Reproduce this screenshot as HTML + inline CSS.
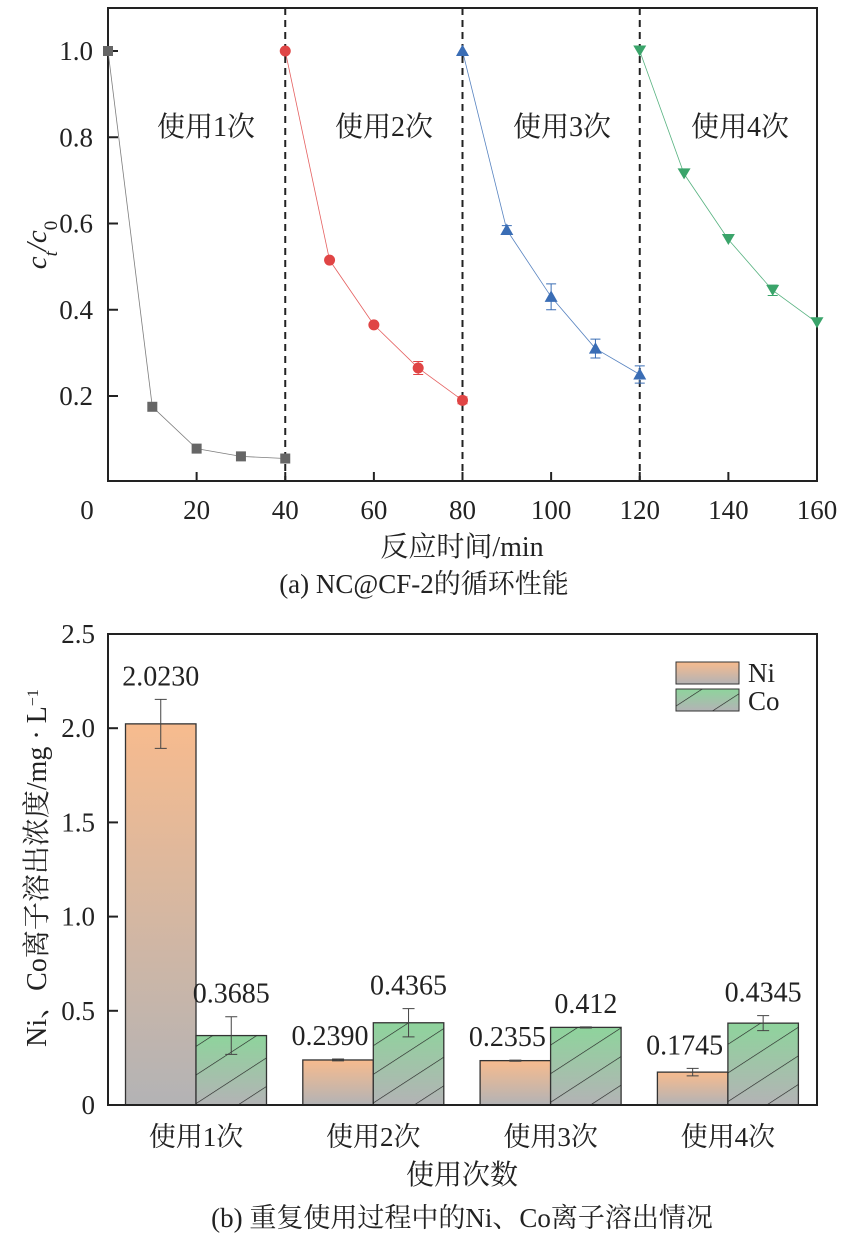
<!DOCTYPE html>
<html><head><meta charset="utf-8"><style>
body{margin:0;background:#fff;}
svg, svg text{font-family:"Liberation Serif","Noto Serif CJK SC","Noto Sans CJK SC",serif !important;}
svg text{fill:#222;}
</style></head><body>
<svg id="s" width="846" height="1242" xmlns="http://www.w3.org/2000/svg" font-family="Liberation Serif, Noto Serif CJK SC, serif">
<defs>
<linearGradient id="gNi" x1="0" y1="0" x2="0" y2="1"><stop offset="0" stop-color="#f7bb8e"/><stop offset="1" stop-color="#b3b3b5"/></linearGradient>
<linearGradient id="gCo" x1="0" y1="0" x2="0" y2="1"><stop offset="0" stop-color="#8ed49c"/><stop offset="1" stop-color="#b3b3b5"/></linearGradient>
<pattern id="hatch" patternUnits="userSpaceOnUse" width="24" height="24" patternTransform="rotate(-33)"><line x1="0" y1="0" x2="24" y2="0" stroke="#222" stroke-width="1.3"/></pattern>
</defs>
<g id="top"></g><g id="bot"></g>
</svg>
<script>
// top chart data
const cycleNames=["使用1次","使用2次","使用3次","使用4次"];
const t1=[0,10,20,30,40], v1=[1.0,0.175,0.078,0.06,0.055], e1=[0,0.005,0.005,0.005,0.005];
const t2=[40,50,60,70,80], v2=[1.0,0.515,0.365,0.265,0.19], e2=[0,0.005,0.005,0.015,0.008];
const t3=[80,90,100,110,120], v3=[1.0,0.585,0.43,0.31,0.25], e3=[0,0.01,0.03,0.022,0.02];
const t4=[120,130,140,150,160], v4=[1.0,0.715,0.563,0.445,0.37], e4=[0,0.005,0.005,0.012,0.005];
const xTicks=[0,20,40,60,80,100,120,140,160];
const yTicks=[0.2,0.4,0.6,0.8,1.0];
// bottom chart data
const groups=["使用1次","使用2次","使用3次","使用4次"];
const ni=[2.0230,0.2390,0.2355,0.1745], niErr=[0.13,0.005,0.003,0.02];
const co=[0.3685,0.4365,0.412,0.4345], coErr=[0.1,0.075,0.003,0.04];
const niLbl=["2.0230","0.2390","0.2355","0.1745"], coLbl=["0.3685","0.4365","0.412","0.4345"];
const bTicks=[0,0.5,1.0,1.5,2.0,2.5];

const NS="http://www.w3.org/2000/svg";
const FF='"Liberation Serif","Noto Serif CJK SC",serif';
function mk(p,tag,attrs,txt){const e=document.createElementNS(NS,tag);for(const k in attrs)e.setAttribute(k,attrs[k]);if(tag==='text')e.style.fontFamily=FF;if(txt!==undefined)e.textContent=txt;p.appendChild(e);return e;}
const T=document.getElementById('top'), B=document.getElementById('bot');
const L=108,R=817,TT=8,TB=481;
const X=t=>L+(t/160)*(R-L);
const Y=v=>396-(v-0.2)/0.8*(396-51);
let r=mk(T,'rect',{x:L,y:TT,width:R-L,height:TB-TT,fill:'none',stroke:'#222','stroke-width':2});

xTicks.forEach(t=>{let l=mk(T,'line',{x1:X(t),x2:X(t),y1:TB,y2:TB-9,stroke:'#222','stroke-width':2});
 let tx=mk(T,'text',{x:t===0?87:X(t),y:519,'font-size':27,'text-anchor':'middle'},String(t));});
yTicks.forEach(v=>{let l=mk(T,'line',{x1:L,x2:L+10,y1:Y(v),y2:Y(v),stroke:'#222','stroke-width':2});
 let tx=mk(T,'text',{x:93,y:Y(v)+9,'font-size':27,'text-anchor':'end'},v.toFixed(1));});
[40,80,120].forEach(t=>{let l=mk(T,'line',{x1:X(t),x2:X(t),y1:TT,y2:TB,stroke:'#222','stroke-width':2,'stroke-dasharray':'7,5'});});
let yt=mk(T,'text',{transform:'translate(46,245) rotate(-90)','font-size':29,'text-anchor':'middle','font-style':'italic'});
yt.innerHTML='c<tspan baseline-shift="sub" font-size="19">t</tspan>/c<tspan baseline-shift="sub" font-size="19" font-style="normal">0</tspan>';

let xt=mk(T,'text',{x:462,y:556,'font-size':28,'text-anchor':'middle'},'反应时间/min');
let cap=mk(T,'text',{x:424,y:593,'font-size':27,'text-anchor':'middle'},'(a) NC@CF-2的循环性能');
[[206,126],[384,126],[562,126],[740,126]].forEach((p,i)=>{let a=mk(T,'text',{x:p[0],y:p[1]+10,'font-size':28,'text-anchor':'middle'},cycleNames[i]);});
const series=[[t1,v1,e1,'#666','sq'],[t2,v2,e2,'#e04545','ci'],[t3,v3,e3,'#3a6db5','tu'],[t4,v4,e4,'#3aa46a','td']];
series.forEach((s,si)=>{const [ts,vs,es,c,m]=s;
 let pl=mk(T,'polyline',{points:ts.map((t,i)=>X(t)+','+Y(vs[i])).join(' '),fill:'none',stroke:c,'stroke-width':0.8,opacity:0.85});
 ts.forEach((t,i)=>{const x=X(t),y=Y(vs[i]);
  if(es[i]>0.006){let eb=mk(T,'path',{d:`M${x-5},${Y(vs[i]+es[i])}H${x+5}M${x},${Y(vs[i]+es[i])}V${Y(vs[i]-es[i])}M${x-5},${Y(vs[i]-es[i])}H${x+5}`,stroke:c,fill:'none','stroke-width':1});}
  let e;
  if(m==='sq')e=mk(T,'rect',{x:x-5,y:y-5,width:10,height:10,fill:c});
  else if(m==='ci')e=mk(T,'circle',{cx:x,cy:y,r:5.5,fill:c});
  else if(m==='tu')e=mk(T,'path',{d:`M${x},${y-6.5}L${x+6.5},${y+5}L${x-6.5},${y+5}Z`,fill:c});
  else e=mk(T,'path',{d:`M${x},${y+5.5}L${x+6.5},${y-5.5}L${x-6.5},${y-5.5}Z`,fill:c});
  });});
// bottom chart
const BL=108,BR=817,BT=634,BB=1105;
const BY=v=>BB-v/2.5*(BB-BT);
const gx=i=>196+i*177.3, bw=70.5;
bTicks.forEach(v=>{let l=mk(B,'line',{x1:BL,x2:BL+10,y1:BY(v),y2:BY(v),stroke:'#222','stroke-width':2});
 let tx=mk(B,'text',{x:95,y:BY(v)+9,'font-size':27,'text-anchor':'end'},v===0?'0':v.toFixed(1));});
groups.forEach((g,i)=>{const cx=gx(i);
 let nb=mk(B,'rect',{x:cx-bw,y:BY(ni[i]),width:bw,height:BY(0)-BY(ni[i]),fill:'url(#gNi)',stroke:'#333','stroke-width':1.3});
 let cb=mk(B,'rect',{x:cx,y:BY(co[i]),width:bw,height:BY(0)-BY(co[i]),fill:'url(#gCo)',stroke:'#333','stroke-width':1.3});
 let hb=mk(B,'rect',{x:cx,y:BY(co[i]),width:bw,height:BY(0)-BY(co[i]),fill:'url(#hatch)'});
 [[cx-bw/2,ni[i],niErr[i]],[cx+bw/2,co[i],coErr[i]]].forEach(q=>{const [x,v,e]=q;let eb=mk(B,'path',{d:`M${x-6},${BY(v+e)}H${x+6}M${x},${BY(v+e)}V${BY(v-e)}M${x-6},${BY(v-e)}H${x+6}`,stroke:'#444',fill:'none','stroke-width':1});});
 let nl=mk(B,'text',{x:cx-bw/2-(i===0?0:8),y:BY(ni[i]+niErr[i])-14,'font-size':28,'text-anchor':'middle'},niLbl[i]);
 let cl=mk(B,'text',{x:cx+bw/2,y:BY(co[i]+coErr[i])-14,'font-size':28,'text-anchor':'middle'},coLbl[i]);
 let gl=mk(B,'text',{x:cx,y:1146,'font-size':27,'text-anchor':'middle'},g);
});
r=mk(B,'rect',{x:BL,y:BT,width:BR-BL,height:BB-BT,fill:'none',stroke:'#222','stroke-width':2});
let lg1=mk(B,'rect',{x:676,y:662,width:63,height:22,fill:'url(#gNi)',stroke:'#333'});
let lg2=mk(B,'rect',{x:676,y:689,width:63,height:22,fill:'url(#gCo)',stroke:'#333'});
let lg3=mk(B,'rect',{x:676,y:689,width:63,height:22,fill:'url(#hatch)'});
let lt1=mk(B,'text',{x:748,y:682,'font-size':27},'Ni');
let lt2=mk(B,'text',{x:748,y:710,'font-size':27},'Co');
let by=mk(B,'text',{transform:'translate(46,868) rotate(-90)','font-size':28,'text-anchor':'middle'});
by.innerHTML='Ni、Co离子溶出浓度/mg · L<tspan baseline-shift="super" font-size="16">−1</tspan>';

let bx=mk(B,'text',{x:462,y:1184,'font-size':28,'text-anchor':'middle'},'使用次数');
let cb2=mk(B,'text',{x:462,y:1227,'font-size':27,'text-anchor':'middle'},'(b) 重复使用过程中的Ni、Co离子溶出情况');
</script>
</body></html>
